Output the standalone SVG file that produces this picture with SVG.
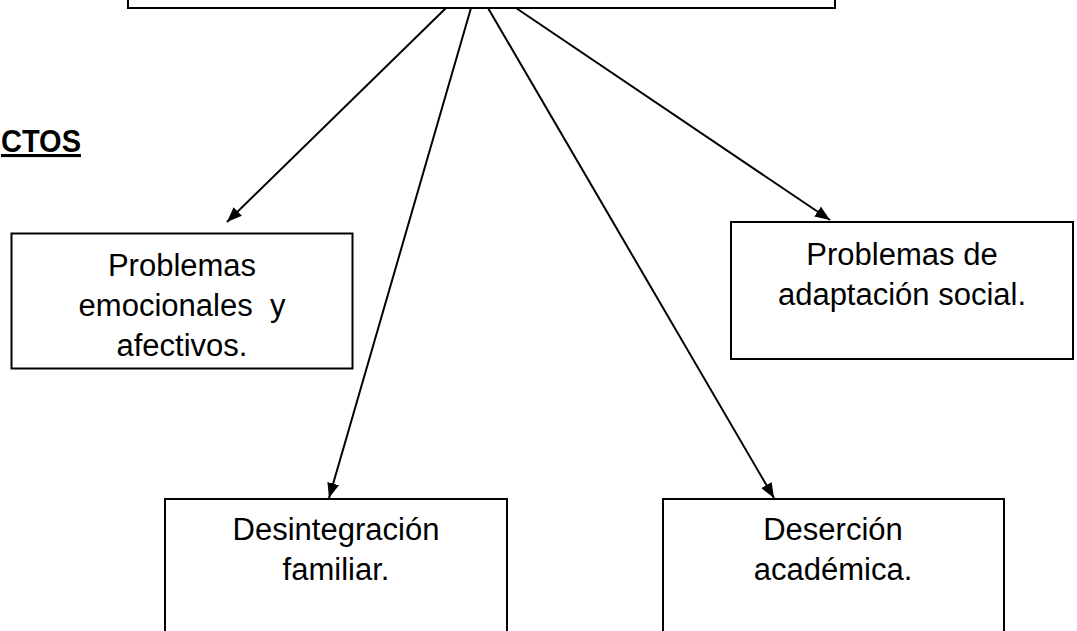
<svg xmlns="http://www.w3.org/2000/svg" width="1077" height="631" viewBox="0 0 1077 631">
  <style>
    .box { fill: #ffffff; stroke: #000000; stroke-width: 2; }
    .lbl { font-family: "Liberation Sans", Arial, sans-serif; font-size: 31px; fill: #000000; text-anchor: middle; }
    .title { font-family: "Liberation Sans", Arial, sans-serif; font-size: 31px; font-weight: bold; fill: #000000; text-decoration: underline; }
    .conn { stroke: #000000; stroke-width: 2; fill: none; marker-end: url(#arrow); }
  </style>
  <defs>
    <marker id="arrow" viewBox="0 0 15 12" refX="15" refY="6" markerWidth="15" markerHeight="12" markerUnits="userSpaceOnUse" orient="auto">
      <path d="M0,0 L15,6 L0,12 z" fill="#000000"/>
    </marker>
  </defs>
  <rect width="1077" height="631" fill="#ffffff"/>

  <g id="title-efectos">
    <text class="title" x="1" y="152" textLength="80" lengthAdjust="spacingAndGlyphs">CTOS</text>
  </g>

  <g id="node-top">
    <rect class="box" x="128" y="-60" width="707" height="68"/>
  </g>

  <g id="connectors">
    <line class="conn" x1="446" y1="8" x2="227" y2="222"/>
    <line class="conn" x1="471" y1="8" x2="329" y2="498"/>
    <line class="conn" x1="488" y1="8" x2="774" y2="498"/>
    <line class="conn" x1="516" y1="8" x2="830" y2="220"/>
  </g>

  <g id="node-emocionales">
    <rect class="box" x="11.5" y="233.5" width="341" height="135"/>
    <text class="lbl" x="182" y="276">Problemas</text>
    <text class="lbl" x="182" y="316" xml:space="preserve">emocionales  y</text>
    <text class="lbl" x="182" y="356">afectivos.</text>
  </g>

  <g id="node-adaptacion">
    <rect class="box" x="731" y="222" width="342" height="137"/>
    <text class="lbl" x="902" y="265">Problemas de</text>
    <text class="lbl" x="902" y="305">adaptación social.</text>
  </g>

  <g id="node-desintegracion">
    <rect class="box" x="165" y="499" width="342" height="137"/>
    <text class="lbl" x="336" y="540">Desintegración</text>
    <text class="lbl" x="336" y="580">familiar.</text>
  </g>

  <g id="node-desercion">
    <rect class="box" x="663" y="499" width="341" height="137"/>
    <text class="lbl" x="833" y="540">Deserción</text>
    <text class="lbl" x="833" y="580">académica.</text>
  </g>
</svg>
